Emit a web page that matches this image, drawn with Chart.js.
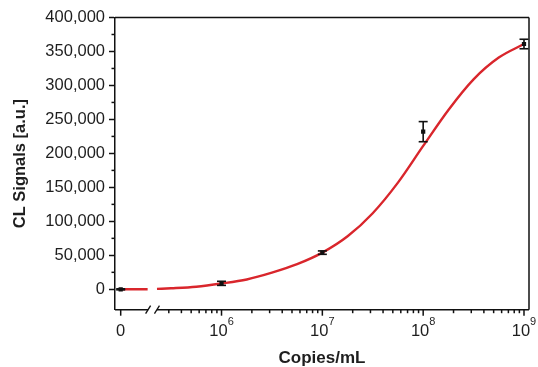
<!DOCTYPE html>
<html>
<head>
<meta charset="utf-8">
<script src="https://cdn.jsdelivr.net/npm/chart.js@4/dist/chart.umd.min.js"></script>
<style>
html,body{margin:0;padding:0;background:#fff;}
#wrap{width:538px;height:367px;}
</style>
</head>
<body>
<div id="wrap"><canvas id="c" width="538" height="367"></canvas></div>
<script>
// ---- data ----
const CATEGORY_LABELS = ['0', '10^6', '10^7', '10^8', '10^9'];
const CONCENTRATIONS = [0, 1e6, 1e7, 1e8, 1e9];          // copies/mL
const SIGNAL_MEANS   = [0, 8800, 54000, 232000, 361000];  // CL signal
const SIGNAL_ERRORS  = [800, 3000, 2500, 14800, 7000];

// fitted curve
const CURVE_X = [2.29e5, 3.16e5, 5.62e5, 1e6, 1.78e6, 3.16e6, 5.62e6, 1e7, 1.78e7, 3.16e7, 5.62e7, 1e8, 1.78e8, 3.16e8, 5.62e8, 1e9];
const CURVE_Y = [600, 1500, 3800, 8500, 14500, 24500, 37000, 54000, 78000, 112000, 157000, 211000, 264000, 309000, 341000, 361000];
// short flat piece of the curve left of the axis break
const CURVE_LEFT_X = [1e5, 1.85e5];
const CURVE_LEFT_Y = [0, 200];

const Y_TICKS = [0, 50000, 100000, 150000, 200000, 250000, 300000, 350000, 400000];
const Y_MINOR = [25000, 75000, 125000, 175000, 225000, 275000, 325000, 375000];

// axis layout (in data units)
const ZERO_POS = 1e5;               // where the "0" category is placed on the log axis
const BREAK_FROM = 1.87e5, BREAK_TO = 2.29e5;
const X_MIN = 8.78e4, X_MAX = 1.121e9;
const Y_MIN = -30000, Y_MAX = 400000;

const FONT = "'Liberation Sans', Arial, Helvetica, sans-serif";
const TXT = '#1e1e1e';
const AX = '#111';

const plotX = v => (v === 0 ? ZERO_POS : v);
const pointData = CONCENTRATIONS.map((c, i) => ({x: plotX(c), y: SIGNAL_MEANS[i]}));
const curveData = CURVE_X.map((c, i) => ({x: c, y: CURVE_Y[i]}));
const curveLeftData = CURVE_LEFT_X.map((c, i) => ({x: c, y: CURVE_LEFT_Y[i]}));

function seg(ctx, x1, y1, x2, y2){ ctx.beginPath(); ctx.moveTo(x1, y1); ctx.lineTo(x2, y2); ctx.stroke(); }

const decor = {
  id: 'decor',
  afterDatasetsDraw(chart){
    const {ctx, scales:{x, y}} = chart;
    ctx.save();
    ctx.strokeStyle = AX; ctx.lineWidth = 1.6;
    CONCENTRATIONS.forEach((c, i) => {
      const px = x.getPixelForValue(plotX(c));
      const t = y.getPixelForValue(SIGNAL_MEANS[i] + SIGNAL_ERRORS[i]);
      const b = y.getPixelForValue(SIGNAL_MEANS[i] - SIGNAL_ERRORS[i]);
      seg(ctx, px, t, px, b);
      seg(ctx, px - 4.5, t, px + 4.5, t);
      seg(ctx, px - 4.5, b, px + 4.5, b);
    });
    ctx.restore();
  },
  afterDraw(chart){
    const {ctx, chartArea:a, scales:{x, y}} = chart;
    ctx.save();
    ctx.strokeStyle = AX; ctx.lineWidth = 1.5;
    // top and right frame
    seg(ctx, a.left, a.top, a.right, a.top);
    seg(ctx, a.right, a.top, a.right, a.bottom);
    // bottom axis with break
    const b1 = x.getPixelForValue(BREAK_FROM), b2 = x.getPixelForValue(BREAK_TO);
    seg(ctx, a.left, a.bottom, b1, a.bottom);
    seg(ctx, b2, a.bottom, a.right, a.bottom);
    ctx.lineWidth = 1.3;
    seg(ctx, b1 - 2.5, a.bottom + 4, b1 + 2.5, a.bottom - 4);
    seg(ctx, b2 - 2.5, a.bottom + 4, b2 + 2.5, a.bottom - 4);
    ctx.lineWidth = 1.5;
    // x ticks
    CONCENTRATIONS.forEach(c => {
      const px = x.getPixelForValue(plotX(c));
      seg(ctx, px, a.bottom, px, a.bottom + 6);
    });
    for (let d = 5; d <= 8; d++){
      for (let k = 2; k <= 9; k++){
        const v = k * Math.pow(10, d);
        if (v <= BREAK_TO) continue;
        const px = x.getPixelForValue(v);
        seg(ctx, px, a.bottom, px, a.bottom + 3.5);
      }
    }
    // y minor ticks
    Y_MINOR.forEach(v => {
      const py = y.getPixelForValue(v);
      seg(ctx, a.left - 3.5, py, a.left, py);
    });
    // x tick labels
    ctx.fillStyle = TXT;
    ctx.textBaseline = 'alphabetic';
    CATEGORY_LABELS.forEach((lab, i) => {
      const px = x.getPixelForValue(plotX(CONCENTRATIONS[i]));
      const parts = lab.split('^');
      ctx.font = '16.5px ' + FONT;
      const wb = ctx.measureText(parts[0]).width;
      let we = 0;
      if (parts[1]){ ctx.font = '11px ' + FONT; we = ctx.measureText(parts[1]).width; }
      const x0 = px - (wb + we) / 2;
      ctx.font = '16.5px ' + FONT; ctx.textAlign = 'left';
      ctx.fillText(parts[0], x0, 335.5);
      if (parts[1]){ ctx.font = '11px ' + FONT; ctx.fillText(parts[1], x0 + wb, 325); }
    });
    // x title
    ctx.font = 'bold 17px ' + FONT; ctx.textAlign = 'center';
    ctx.fillText('Copies/mL', (a.left + a.right) / 2, 363);
    ctx.restore();
  }
};

new Chart(document.getElementById('c'), {
  data: {
    datasets: [
      { type: 'line', data: curveData, borderColor: '#d9262c', borderWidth: 2.4,
        pointRadius: 0, cubicInterpolationMode: 'monotone', fill: false, order: 3 },
      { type: 'line', data: curveLeftData, borderColor: '#d9262c', borderWidth: 2.4,
        pointRadius: 0, fill: false, order: 2 },
      { type: 'scatter', data: pointData, pointStyle: 'rect', pointRadius: 3,
        backgroundColor: '#111', borderColor: '#111', borderWidth: 0, order: 1 }
    ]
  },
  options: {
    responsive: false, animation: false, devicePixelRatio: 1,
    layout: { padding: { left: 0, top: 17.5, right: 9, bottom: 57.3 } },
    plugins: { legend: { display: false }, tooltip: { enabled: false } },
    scales: {
      x: { type: 'logarithmic', min: X_MIN, max: X_MAX, display: false },
      y: {
        type: 'linear', min: Y_MIN, max: Y_MAX,
        afterBuildTicks: s => { s.ticks = Y_TICKS.map(v => ({value: v})); },
        afterFit: s => { s.width = 115; },
        ticks: { callback: v => v.toLocaleString('en-US'), color: TXT,
                 font: { family: FONT, size: 16.5 }, padding: 4 },
        grid: { drawOnChartArea: false, tickLength: 6, tickColor: AX, tickWidth: 1.5 },
        border: { color: AX, width: 1.5 },
        title: { display: true, text: 'CL Signals [a.u.]', color: TXT,
                 font: { family: FONT, size: 16.5, weight: 'bold' }, padding: { top: 11, bottom: 0 } }
      }
    }
  },
  plugins: [decor]
});
</script>
</body>
</html>
